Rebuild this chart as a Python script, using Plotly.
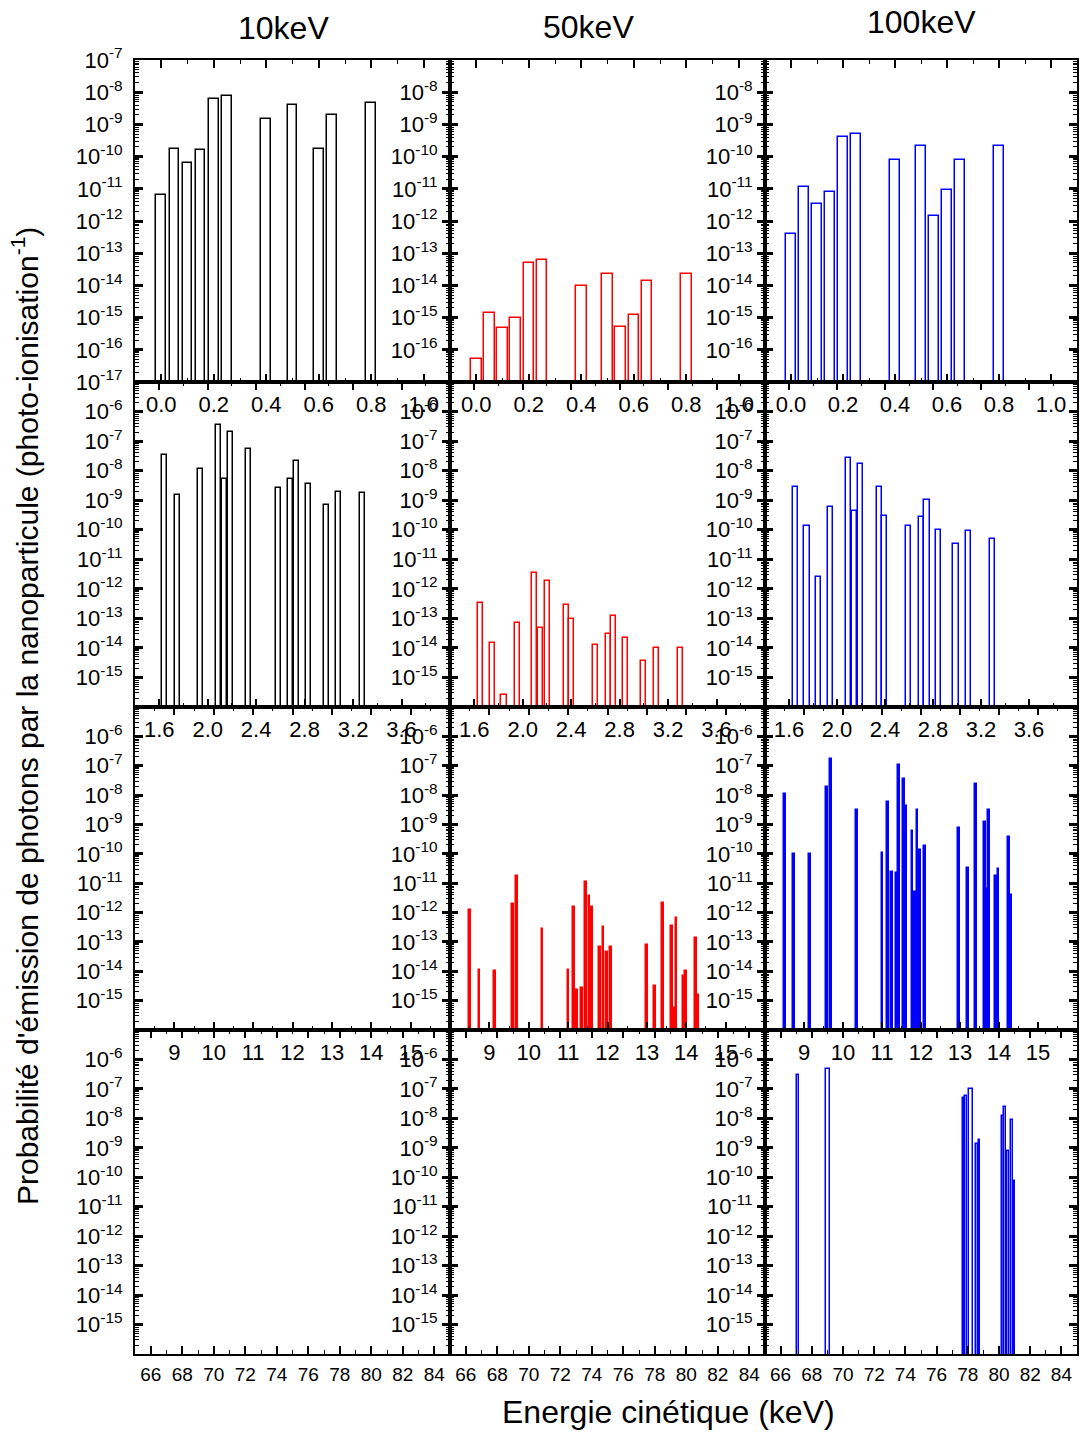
import plotly.graph_objects as go
from plotly.subplots import make_subplots

# ---------------- data: photon emission probability per line ----------------
# Row 1 : 0 - 1 keV
E1_10 = [0.0, 0.05, 0.10, 0.15, 0.20, 0.25, 0.40, 0.50, 0.60, 0.65, 0.80]
P1_10 = [6.5e-12, 1.7e-10, 6.3e-11, 1.55e-10, 6.2e-9, 7.7e-9, 1.5e-9, 4.1e-9,
         1.7e-10, 2.0e-9, 4.6e-9]
E1_50 = [0.0, 0.05, 0.10, 0.15, 0.20, 0.25, 0.40, 0.50, 0.55, 0.60, 0.65, 0.80]
P1_50 = [5.2e-17, 1.4e-15, 4.6e-16, 1.0e-15, 4.9e-14, 6.2e-14, 9.6e-15, 2.3e-14,
         5.1e-16, 1.2e-15, 1.4e-14, 2.3e-14]
E1_100 = [0.0, 0.05, 0.10, 0.15, 0.20, 0.25, 0.40, 0.50, 0.55, 0.60, 0.65, 0.80]
P1_100 = [3.9e-13, 1.15e-11, 3.4e-12, 8.0e-12, 4.1e-10, 5.0e-10, 8.1e-11, 2.1e-10,
          1.4e-12, 9.1e-12, 8.1e-11, 2.1e-10]

# Row 2 : 1.4 - 4 keV
E2_10 = [1.646, 1.749, 1.943, 2.09, 2.135, 2.186, 2.335, 2.585, 2.686, 2.734,
         2.832, 2.981, 3.08, 3.278]
P2_10 = [3.5e-8, 1.5e-9, 1.17e-8, 3.4e-7, 5.3e-9, 2.1e-7, 5.6e-8, 2.6e-9, 5.3e-9,
         2.2e-8, 3.6e-9, 6.8e-10, 1.9e-9, 1.7e-9]
E2_50 = [1.654, 1.752, 1.846, 1.956, 2.101, 2.145, 2.206, 2.358, 2.40, 2.603,
         2.708, 2.753, 2.849, 2.998, 3.104, 3.305]
P2_50 = [3.2e-13, 1.45e-14, 2.5e-16, 6.8e-14, 3.5e-12, 4.8e-14, 1.9e-12, 2.9e-13,
         9.7e-14, 1.3e-14, 3.0e-14, 1.25e-13, 2.1e-14, 3.5e-15, 1.0e-14, 1.0e-14]
E2_100 = [1.653, 1.75, 1.845, 1.948, 2.099, 2.146, 2.196, 2.353, 2.398, 2.593,
          2.703, 2.75, 2.847, 2.992, 3.097, 3.293]
P2_100 = [2.9e-9, 1.3e-10, 2.5e-12, 6.0e-10, 2.7e-8, 4.2e-10, 1.7e-8, 2.9e-9,
          3.0e-10, 1.3e-10, 2.6e-10, 9.8e-10, 9.8e-11, 3.4e-11, 8.9e-11, 5.0e-11]

# Row 3 : 8 - 16 keV
E3_50 = [8.50, 8.75, 9.15, 9.60, 9.70, 10.35, 11.01, 11.15, 11.23, 11.36, 11.46,
         11.54, 11.61, 11.81, 11.90, 11.98, 12.09, 13.00, 13.20, 13.41, 13.64,
         13.70, 13.75, 13.95, 14.00, 14.25, 14.31]
P3_50 = [1.2e-12, 1.1e-14, 1.0e-14, 1.9e-12, 1.8e-11, 2.8e-13, 1.1e-14, 1.5e-12,
         2.3e-15, 2.6e-15, 1.1e-11, 3.8e-12, 1.5e-12, 6.7e-14, 3.1e-13, 4.6e-14,
         6.7e-14, 7.6e-14, 3.1e-15, 2.1e-12, 3.6e-13, 5.6e-16, 6.5e-13, 7.1e-15,
         1.0e-14, 1.4e-13, 1.5e-15]
E3_100 = [8.51, 8.74, 9.15, 9.59, 9.70, 10.36, 11.01, 11.15, 11.25, 11.37, 11.44,
          11.56, 11.61, 11.78, 11.84, 11.91, 11.98, 12.10, 12.98, 13.20, 13.41,
          13.64, 13.70, 13.75, 13.93, 13.99, 14.25, 14.32]
P3_100 = [1.05e-8, 9.8e-11, 1.0e-10, 1.9e-8, 1.65e-7, 3.1e-9, 1.1e-10, 5.7e-9,
          2.4e-11, 2.3e-11, 1.1e-7, 3.5e-8, 4.4e-9, 6.0e-10, 5.0e-12, 3.2e-9,
          1.3e-10, 1.9e-10, 7.4e-10, 3.4e-11, 2.3e-8, 1.2e-9, 6.5e-12, 3.2e-9,
          1.8e-11, 3.0e-11, 3.7e-10, 3.9e-12]

# Row 4 : 65 - 85 keV
E4_100 = [67.12, 69.02, 77.72, 77.86, 78.22, 78.60, 78.74, 80.25, 80.38, 80.57,
          80.84, 80.98]
P4_100 = [2.9e-7, 4.8e-7, 5.0e-8, 5.6e-8, 1.0e-7, 1.3e-9, 1.8e-9, 1.2e-8, 2.5e-8,
          8.0e-10, 8.7e-9, 7.3e-11]

column_titles = ["10keV", "50keV", "100keV"]
colors = ["#000000", "#ff0000", "#0000ff"]

# x axis per row: range, labelled ticks, minor ticks
x_ranges = [[-0.1, 1.1], [1.4, 4.0], [8, 16], [65, 85]]
x_major = [[0.0, 0.2, 0.4, 0.6, 0.8, 1.0],
           [1.6, 2.0, 2.4, 2.8, 3.2, 3.6],
           [9, 10, 11, 12, 13, 14, 15],
           [66, 68, 70, 72, 74, 76, 78, 80, 82, 84]]
x_labels = [["0.0", "0.2", "0.4", "0.6", "0.8", "1.0"],
            ["1.6", "2.0", "2.4", "2.8", "3.2", "3.6"],
            ["9", "10", "11", "12", "13", "14", "15"],
            ["66", "68", "70", "72", "74", "76", "78", "80", "82", "84"]]
x_minor = [[0.1, 0.3, 0.5, 0.7, 0.9],
           [1.8, 2.2, 2.6, 3.0, 3.4, 3.8],
           [8.5, 9.5, 10.5, 11.5, 12.5, 13.5, 14.5, 15.5],
           [67, 69, 71, 73, 75, 77, 79, 81, 83]]

# decade limits of the log axis per row
y_decades = [(-17, -7), (-16, -5), (-16, -5), (-16, -5)]

# (row, col) -> series
panels = {
    (1, 1): (E1_10, P1_10), (1, 2): (E1_50, P1_50), (1, 3): (E1_100, P1_100),
    (2, 1): (E2_10, P2_10), (2, 2): (E2_50, P2_50), (2, 3): (E2_100, P2_100),
    (3, 2): (E3_50, P3_50), (3, 3): (E3_100, P3_100),
    (4, 3): (E4_100, P4_100),
}

# drawing style of the bars in each panel (bar width in keV, solid or outlined)
bar_width = {(1, 1): 0.037, (1, 2): 0.040, (1, 3): 0.039,
             (2, 1): 0.042, (2, 2): 0.042, (2, 3): 0.043,
             (3, 2): 0.045, (3, 3): 0.045}
solid = {(3, 2), (3, 3)}
# high-energy lines: the two broad ones are drawn open, the rest as thin strokes
row4_widths = [0.10, 0.26, 0.12, 0.12, 0.26, 0.10, 0.10, 0.10, 0.10, 0.10, 0.10, 0.10]
bar_width[(4, 3)] = row4_widths

W, H = 1081, 1432
col_px = [135, 450, 765, 1077]
row_px = [60, 382, 707, 1030, 1354]
FONT = "Liberation Sans, Arial, sans-serif"

fig = make_subplots(rows=4, cols=3, horizontal_spacing=0, vertical_spacing=0)

for r in range(1, 5):
    for c in range(1, 4):
        if (r, c) in panels:
            e, p = panels[(r, c)]
            col = colors[c - 1]
            fill = col if (r, c) in solid else "rgba(255,255,255,0)"
            fig.add_trace(go.Bar(
                x=e, y=p, width=bar_width[(r, c)],
                marker=dict(color=fill, line=dict(color=col, width=1.5)),
                showlegend=False, hoverinfo="x+y",
            ), row=r, col=c)
        else:
            # panel without any line: keep the frame and its axes
            fig.add_trace(go.Scatter(x=[None], y=[None], mode="markers",
                                     showlegend=False, hoverinfo="skip"),
                          row=r, col=c)

for r in range(1, 5):
    lo, hi = y_decades[r - 1]
    majors = [10.0 ** k for k in range(lo, hi + 1)]
    minors = [m * 10.0 ** k for k in range(lo, hi) for m in range(2, 10)]
    for c in range(1, 4):
        if r == 1:
            shown = range(lo, hi + 1) if c == 1 else range(lo + 1, hi)
        else:
            shown = range(lo + 1, hi)
        texts = [f"10<sup>{k}</sup>" if k in shown else "" for k in range(lo, hi + 1)]
        fig.update_yaxes(
            type="log", range=[lo, hi], automargin=False,
            domain=[1 - row_px[r] / H, 1 - row_px[r - 1] / H],
            tickmode="array", tickvals=majors, ticktext=texts,
            ticks="inside", ticklen=8, tickwidth=2.5, tickcolor="black",
            minor=dict(tickmode="array", tickvals=minors, ticks="inside",
                       ticklen=4, tickwidth=1.2, tickcolor="black", showgrid=False),
            showline=True, linecolor="black", linewidth=2, mirror="allticks",
            showgrid=False, zeroline=False, ticklabelstandoff=6,
            tickfont=dict(family=FONT, size=22, color="black"),
            row=r, col=c)
        fig.update_xaxes(
            range=x_ranges[r - 1], automargin=False,
            domain=[col_px[c - 1] / W, col_px[c] / W],
            tickmode="array", tickvals=x_major[r - 1], ticktext=x_labels[r - 1],
            ticks="inside", ticklen=8, tickwidth=1.5, tickcolor="black",
            minor=dict(tickmode="array", tickvals=x_minor[r - 1], ticks="inside",
                       ticklen=4, tickwidth=1.2, tickcolor="black", showgrid=False),
            showline=True, linecolor="black", linewidth=2, mirror="allticks",
            showgrid=False, zeroline=False, ticklabelstandoff=2,
            tickfont=dict(family=FONT, size=19 if r == 4 else 22, color="black"),
            row=r, col=c)

annotations = []
title_pos = [(283, 28), (588, 27), (921, 22)]
for t, (tx, ty) in zip(column_titles, title_pos):
    annotations.append(dict(text=t, x=tx / W, y=1 - ty / H, xref="paper", yref="paper",
                            showarrow=False, xanchor="center", yanchor="middle",
                            font=dict(family=FONT, size=32, color="black")))
annotations.append(dict(
    text="Probabilité d'émission de photons par la nanoparticule (photo-ionisation<sup>-1</sup>)",
    x=25 / W, y=1 - 716 / H, xref="paper", yref="paper", textangle=-90,
    showarrow=False, xanchor="center", yanchor="middle",
    font=dict(family=FONT, size=30, color="black")))
annotations.append(dict(
    text="Energie cinétique (keV)", x=668 / W, y=1 - 1412 / H,
    xref="paper", yref="paper", showarrow=False, xanchor="center", yanchor="middle",
    font=dict(family=FONT, size=32, color="black")))

fig.update_layout(
    width=W, height=H, margin=dict(l=0, r=0, t=0, b=0),
    paper_bgcolor="white", plot_bgcolor="white",
    barmode="overlay", bargap=0,
    font=dict(family=FONT, color="black"),
    annotations=annotations,
)

fig.write_html("out.html")
